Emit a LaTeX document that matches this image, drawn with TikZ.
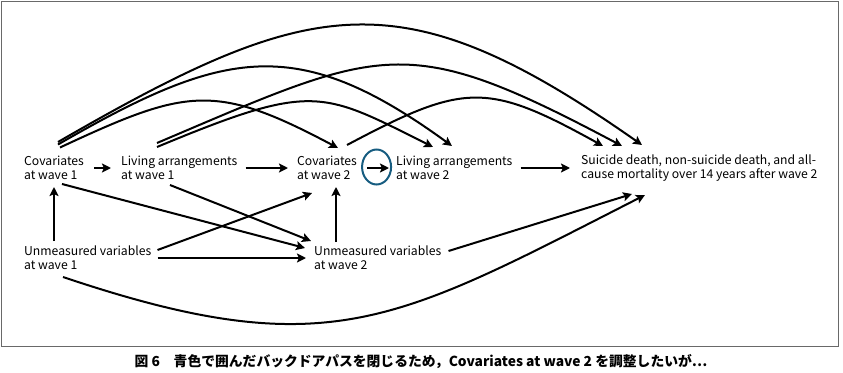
\documentclass[tikz,border=0pt]{standalone}
\usepackage{fontspec}
\setmainfont{Noto Sans CJK JP}
\usepackage{tikz}
\usetikzlibrary{arrows.meta, positioning, calc, shapes.geometric}
\definecolor{ringcolor}{RGB}{22,92,128}
\definecolor{framecolor}{RGB}{105,105,105}

\begin{document}
\begin{tikzpicture}[
    x=1pt, y=1pt,
    >={Stealth[length=9pt, width=9pt, inset=1.8pt]},
    lbl/.style={anchor=west, align=left, inner sep=0pt, font=\fontsize{12.2}{14}\selectfont},
    arr/.style={->, line width=2pt},
]
    \useasboundingbox (0,0) rectangle (843,-372);
    % Frame
    \draw[framecolor, line width=1pt] (1.5,-1.5) rectangle (838.5,-346);

    % Top row
    \node[lbl] (cov1) at (24,-168) {Covariates\\at wave 1};
    \node[lbl] (liv1) at (121,-168) {Living arrangements\\at wave 1};
    \node[lbl] (cov2) at (297,-168) {Covariates\\at wave 2};
    \node[lbl] (liv2) at (396,-168) {Living arrangements\\at wave 2};
    \node[lbl] (out) at (581,-168) {Suicide death, non-suicide death, and all-\\cause mortality over 14 years after wave 2};
    % Bottom row
    \node[lbl] (unm1) at (24,-258) {Unmeasured variables\\at wave 1};
    \node[lbl] (unm2) at (314,-258) {Unmeasured variables\\at wave 2};

    % Chain arrows
    \draw[arr] ([xshift=10pt]cov1.east) -- ([xshift=-10pt]liv1.west);
    \draw[arr] ([xshift=8pt]liv1.east) -- ([xshift=-9pt]cov2.west);
    \draw[arr] ([xshift=10pt]cov2.east) -- ([xshift=-7pt]liv2.west);
    \draw[arr] ([xshift=8pt]liv2.east) -- ([xshift=-11pt]out.west);

    % Highlight
    \node[draw=ringcolor, line width=2pt, ellipse, minimum width=29pt, minimum height=35pt, inner sep=0pt]
        (ring) at ($(cov2.east)!0.5!(liv2.west)+(0,1)$) {};

    % Unmeasured paths
    \draw[arr] ([shift={(30,17)}]unm1.west) -- ([shift={(30,-19)}]cov1.west);
    \draw[arr] ([shift={(22,16)}]unm2.west) -- ([shift={(39,-19)}]cov2.west);
    \draw[arr] ([shift={(38,-16)}]cov1.west) -- ([shift={(-9,10)}]unm2.west);
    \draw[arr] ([shift={(49,-17)}]liv1.west) -- ([shift={(-3,17)}]unm2.west);
    \draw[arr] ([shift={(6,8)}]unm1.east) -- ([shift={(15,-25)}]cov2.west);
    \draw[arr] ([xshift=6pt]unm1.east) -- ([xshift=-8pt]unm2.west);
    \draw[arr] ([shift={(7,7)}]unm2.east) -- ([shift={(51,-26)}]out.west);
    \draw[arr] ([shift={(39,-19)}]unm1.west) .. controls +(265.4,-89.3) and +(-249.5,-127.1) .. ([shift={(64,-27)}]out.west);

    % Arcs over the top
    \draw[arr] ([shift={(34,26)}]cov1.west) .. controls +(254.6,147) and +(-241,168.8) .. ([shift={(61,23)}]out.west);
    \draw[arr] ([shift={(34,23.5)}]cov1.west) .. controls +(166.1,95.9) and +(-155.2,112.8) .. ([shift={(56,22)}]liv2.west);
    \draw[arr] ([shift={(36,20.5)}]cov1.west) .. controls +(126.7,59.1) and +(-123.4,65.6) .. ([shift={(41,20)}]cov2.west);
    \draw[arr] ([shift={(36,25)}]liv1.west) .. controls +(226.9,96.4) and +(-217.6,115.6) .. ([shift={(41,22)}]out.west);
    \draw[arr] ([shift={(36,21)}]liv1.west) .. controls +(156.5,65.1) and +(-111.8,56) .. ([shift={(37,21)}]liv2.west);
    \draw[arr] ([shift={(50,23)}]cov2.west) .. controls +(117.3,62.3) and +(-116.2,64.4) .. ([shift={(22,22)}]out.west);

    % Caption
    \node[font=\fontsize{13.8}{16}\selectfont\bfseries, inner sep=0pt] (cap) at (421,-362)
        {図 6　青色で囲んだバックドアパスを閉じるため，Covariates at wave 2 を調整したいが⋯};
\end{tikzpicture}
\end{document}
